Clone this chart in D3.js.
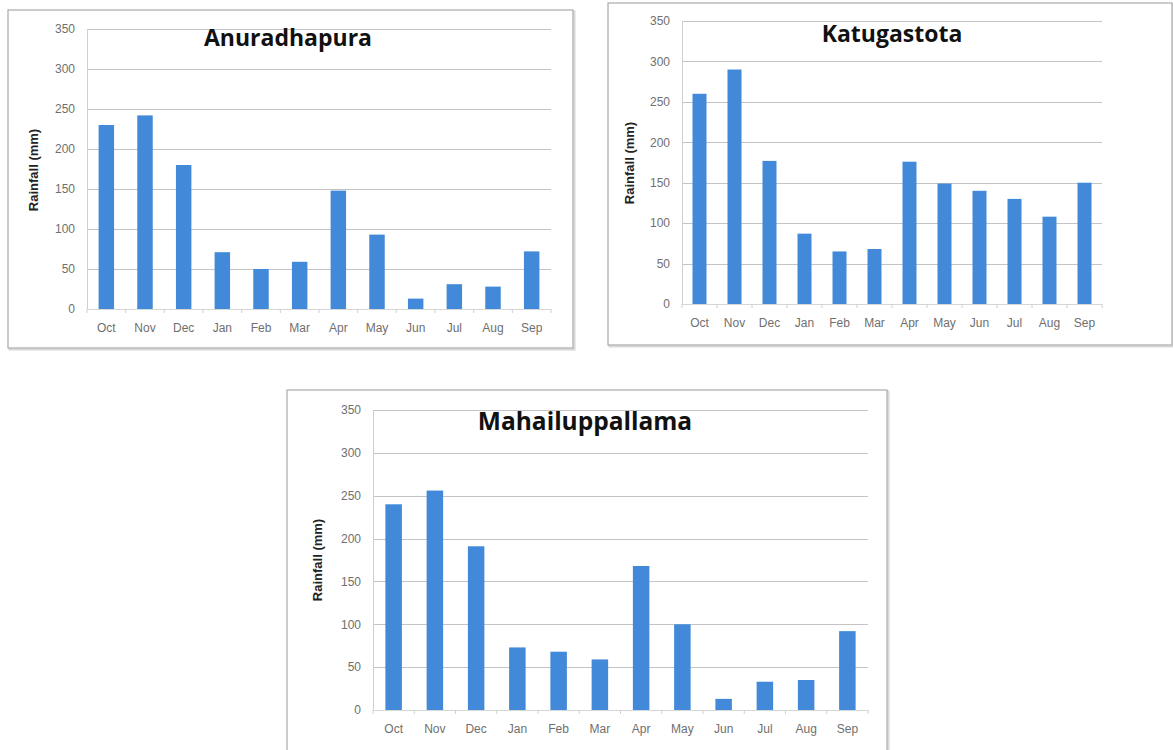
<!DOCTYPE html>
<html>
<head>
<meta charset="utf-8">
<script src="https://cdn.jsdelivr.net/npm/d3@7/dist/d3.min.js"></script>
<style>
  body { margin: 0; background: #fff; }
  svg { display: block; }
</style>
</head>
<body>
<svg id="chart" width="1173" height="750"></svg>
<script>
// monthly rainfall (mm), water year Oct -> Sep
const months = ['Oct', 'Nov', 'Dec', 'Jan', 'Feb', 'Mar', 'Apr', 'May', 'Jun', 'Jul', 'Aug', 'Sep'];
const anuradhapura = [230, 242, 180, 71, 50, 59, 148, 93, 13, 31, 28, 72];
const katugastota = [260, 290, 177, 87, 65, 68, 176, 149, 140, 130, 108, 150];
const mahailuppallama = [240, 256, 191, 73, 68, 59, 168, 100, 13, 33, 35, 92];
const yTicks = [0, 50, 100, 150, 200, 250, 300, 350];
const yLabel = 'Rainfall (mm)';

const svg = d3.select('#chart');

// layout of each panel (frame box, plot box, title + axis title positions)
const panels = [
  { name: 'Anuradhapura', values: anuradhapura, titleSize: 23,
    frame: [8, 10, 565, 338], plot: [87, 551, 29, 309], title: [288, 46], yTitle: [38, 170] },
  { name: 'Katugastota', values: katugastota, titleSize: 23,
    frame: [608, 3, 564, 342], plot: [682, 1102, 21, 304], title: [892, 42], yTitle: [634, 163] },
  { name: 'Mahailuppallama', values: mahailuppallama, titleSize: 24.5,
    frame: [287, 390, 600, 370], plot: [373, 868, 410, 710], title: [585, 430], yTitle: [322, 560] }
];

function drawPanel (p) {
  const g = svg.append('g');
  const [fx, fy, fw, fh] = p.frame;
  const [left, right, top, bottom] = p.plot;

  // outer frame with a faint shadow
  g.append('rect')
    .attr('x', fx + 1.5).attr('y', fy + 1.5).attr('width', fw).attr('height', fh)
    .attr('fill', 'none').attr('stroke', '#d8d8d8').attr('stroke-width', 2);
  g.append('rect')
    .attr('x', fx).attr('y', fy).attr('width', fw).attr('height', fh)
    .attr('fill', '#fff').attr('stroke', '#a9a9a9').attr('stroke-width', 1.2);

  const x = d3.scaleBand().domain(months).range([left, right]).paddingInner(0.6).paddingOuter(0.3);
  const y = d3.scaleLinear().domain([0, 350]).range([bottom, top]);

  // gridlines
  g.append('g')
    .selectAll('line')
    .data(yTicks.filter(d => d > 0))
    .join('line')
    .attr('x1', left).attr('x2', right)
    .attr('y1', d => Math.round(y(d)) + 0.5).attr('y2', d => Math.round(y(d)) + 0.5)
    .attr('stroke', '#c4c4c4').attr('stroke-width', 1);

  // y axis
  const yAxis = g.append('g')
    .attr('transform', `translate(${left},0)`)
    .call(d3.axisLeft(y).tickValues(yTicks).tickSize(0).tickPadding(12));
  yAxis.select('.domain').attr('stroke', '#cfcfcf');
  yAxis.selectAll('text')
    .attr('fill', '#6f6f6f')
    .style('font', '12px "Liberation Sans", Arial, sans-serif');

  // bars
  g.append('g')
    .selectAll('rect')
    .data(p.values)
    .join('rect')
    .attr('x', (d, i) => x(months[i]))
    .attr('width', x.bandwidth())
    .attr('y', d => y(d))
    .attr('height', d => y(0) - y(d))
    .attr('fill', '#4389d9');

  // x axis
  const xStep = x.step();
  const xAxis = g.append('g')
    .attr('transform', `translate(0,${bottom})`)
    .call(d3.axisBottom(x).tickSize(0).tickPadding(14));
  xAxis.select('.domain').attr('stroke', '#d6d6d6');
  xAxis.selectAll('text')
    .attr('fill', '#6f6f6f')
    .style('font', '12px "Liberation Sans", Arial, sans-serif');
  // small tick marks between categories
  xAxis.append('g')
    .selectAll('line')
    .data(d3.range(months.length + 1))
    .join('line')
    .attr('x1', i => left + i * xStep).attr('x2', i => left + i * xStep)
    .attr('y1', 0).attr('y2', 4)
    .attr('stroke', '#d0d0d0');

  // title
  g.append('text')
    .attr('x', p.title[0]).attr('y', p.title[1])
    .attr('text-anchor', 'middle')
    .attr('fill', '#111')
    .style('font', `bold ${p.titleSize}px "Open Sans", "DejaVu Sans", sans-serif`)
    .text(p.name);

  // y axis title
  g.append('text')
    .attr('transform', `translate(${p.yTitle[0]},${p.yTitle[1]}) rotate(-90)`)
    .attr('text-anchor', 'middle')
    .attr('fill', '#222')
    .style('font', 'bold 13px "Liberation Sans", Arial, sans-serif')
    .text(yLabel);
}

panels.forEach(drawPanel);
</script>
</body>
</html>
